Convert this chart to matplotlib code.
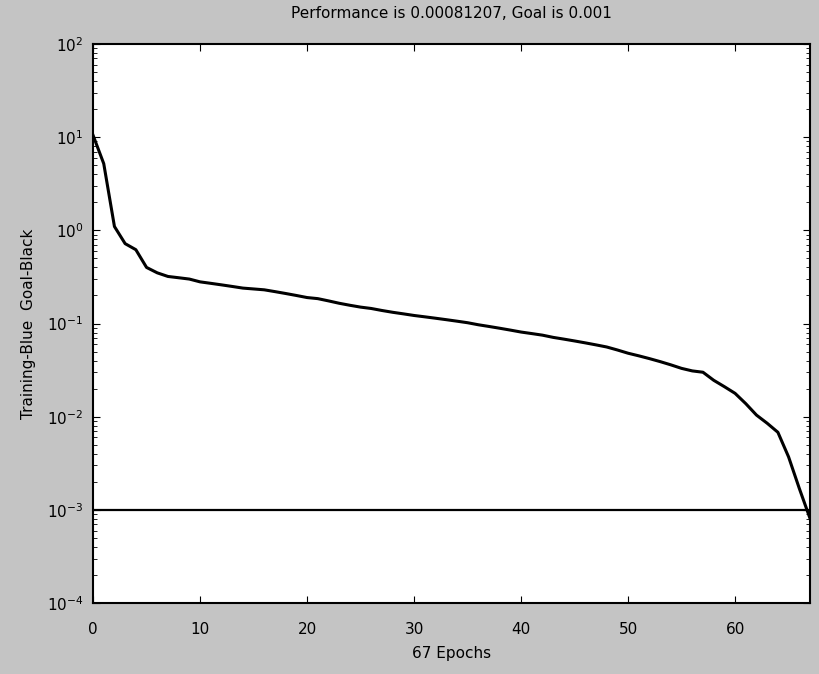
import matplotlib
matplotlib.use('Agg')
import matplotlib.pyplot as plt
import numpy as np
from matplotlib.ticker import LogLocator, NullFormatter, FixedLocator

# training performance per epoch
epochs = np.arange(0, 68)
perf = [10.5, 5.2, 1.1, 0.72, 0.62, 0.40, 0.35, 0.32, 0.31, 0.30,
        0.28, 0.27, 0.26, 0.25, 0.24, 0.235, 0.23, 0.22, 0.21, 0.20,
        0.19, 0.185, 0.175, 0.165, 0.157, 0.15, 0.145, 0.138, 0.132, 0.127,
        0.122, 0.118, 0.114, 0.110, 0.106, 0.102, 0.097, 0.093, 0.089, 0.085,
        0.081, 0.078, 0.075, 0.071, 0.068, 0.065, 0.062, 0.059, 0.056, 0.052,
        0.048, 0.045, 0.042, 0.039, 0.036, 0.033, 0.031, 0.030, 0.0246, 0.021,
        0.0178, 0.0138, 0.0104, 0.0085, 0.0068, 0.0037, 0.0017, 0.00081]
goal = 0.001
xticks = [0, 10, 20, 30, 40, 50, 60]
yticks = [1e-4, 1e-3, 1e-2, 1e-1, 1e0, 1e1, 1e2]

fig = plt.figure(figsize=(8.19, 6.74), dpi=100)
fig.patch.set_facecolor('#c4c4c4')
ax = fig.add_axes([0.1136, 0.1053, 0.8754, 0.8294])
ax.set_facecolor('white')

ax.semilogy(epochs, perf, color='black', linewidth=2.2)
ax.plot([epochs[0], epochs[-1]], [goal, goal], color='black', linewidth=1.6)

ax.set_xlim(0, 67)
ax.set_ylim(1e-4, 1e2)
ax.set_xticks(xticks)
ax.yaxis.set_major_locator(FixedLocator(yticks))
ax.yaxis.set_minor_locator(LogLocator(base=10, subs=np.arange(2, 10), numticks=10))
ax.yaxis.set_minor_formatter(NullFormatter())
ax.tick_params(which='both', direction='in', top=True, right=True, labelsize=11)
ax.tick_params(which='major', length=5)
ax.tick_params(which='minor', length=3)
ax.tick_params(axis='x', pad=14)
ax.tick_params(axis='y', pad=7)
for s in ax.spines.values():
    s.set_linewidth(1.5)

ax.set_title('Performance is 0.00081207, Goal is 0.001', fontsize=11, pad=19)
ax.set_xlabel('67 Epochs', fontsize=11, labelpad=6)
ax.set_ylabel('Training-Blue  Goal-Black', fontsize=11, labelpad=8)

plt.savefig('out.png', dpi=100, facecolor=fig.get_facecolor())
